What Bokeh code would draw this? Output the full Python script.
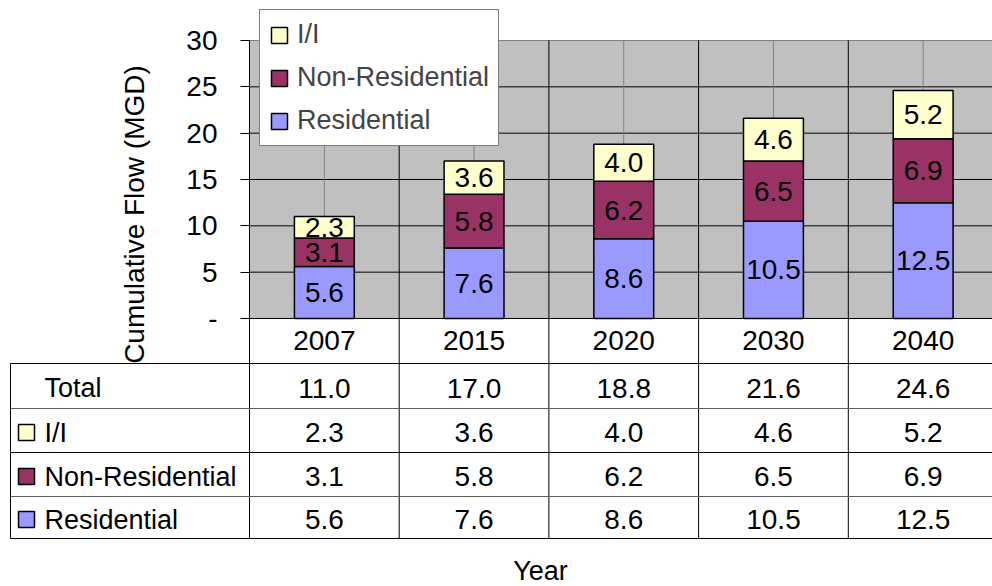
import numpy as np
from bokeh.plotting import figure
from bokeh.models import (Range1d, FixedTicker, Legend, LegendItem,
                          BoxAnnotation, LinearAxis)
from bokeh.embed import file_html
from bokeh.resources import INLINE
from bokeh.core.properties import value

# ---------------- data ----------------
years = ["2007", "2015", "2020", "2030", "2040"]
residential = [5.6, 7.6, 8.6, 10.5, 12.5]
non_residential = [3.1, 5.8, 6.2, 6.5, 6.9]
infiltration = [2.3, 3.6, 4.0, 4.6, 5.2]
totals = [11.0, 17.0, 18.8, 21.6, 24.6]
series_names = ["Residential", "Non-Residential", "I/I"]
series_colors = ["#9999FF", "#993366", "#FFFFCC"]
y_ticks = [0, 5, 10, 15, 20, 25, 30]
y_tick_labels = ["-", "5", "10", "15", "20", "25", "30"]
table_rows = ["Total", "I/I", "Non-Residential", "Residential"]
y_title = "Cumulative Flow (MGD)"
x_title = "Year"

# ---------------- style / layout (pixels) ----------------
FONT = "Liberation Sans"
FS_NUM = "28px"
FS_TXT = "27px"
W, H = 992, 586
X0_PX = 249            # left edge of first category
PX_X = 149.7           # pixels per category
Y0_PX = 318            # pixel of value 0
PX_Y = 278 / 30        # pixels per MGD
TABLE_LEFT_PX = 10
TABLE_LINES_PX = [363, 408, 452, 496, 538]
TABLE_LINE_COLORS = ["black", "#606060", "black", "#606060", "black"]
TABLE_TEXT_SHIFT_PX = 2
LABEL_X_PX = 44
SWATCH_X_PX = 26
GRAY_BG = "#C0C0C0"
GRID_GRAY = "#808080"


def xd(px):
    return (px - X0_PX) / PX_X


def yd(py):
    return (Y0_PX - py) / PX_Y


series = [residential, non_residential, infiltration]
n = len(years)
xc = np.arange(n) + 0.5
x_end = xd(W)
ytop = y_ticks[-1]
table_bottom = yd(TABLE_LINES_PX[-1])

p = figure(width=W, height=H, x_range=Range1d(xd(0), x_end),
           y_range=Range1d(yd(H), yd(0)),
           output_backend="svg", toolbar_location=None,
           x_axis_location=None, y_axis_location=None, min_border=0,
           background_fill_color="white", border_fill_color="white",
           outline_line_color=None)
for g in p.grid:
    g.visible = False

# plot-area background and grid
p.add_layout(BoxAnnotation(left=0, bottom=y_ticks[0], top=ytop, fill_color=GRAY_BG,
                           fill_alpha=1, line_color=None, level="image"))
p.segment(x0=[0] * (len(y_ticks) - 1), y0=y_ticks[:-1],
          x1=[x_end] * (len(y_ticks) - 1), y1=y_ticks[:-1],
          line_color="black", line_width=1)
p.segment(x0=[0], y0=[ytop], x1=[x_end], y1=[ytop], line_color=GRID_GRAY, line_width=1)
p.segment(x0=xc, y0=[y_ticks[0]] * n, x1=xc, y1=[ytop] * n,
          line_color=GRID_GRAY, line_width=1)
bx = list(range(n))
p.segment(x0=bx, y0=[table_bottom] * n, x1=bx, y1=[ytop] * n,
          line_color="black", line_width=1)

# stacked bars with labels
bottom = np.zeros(n)
renderers = []
for vals, name, col in zip(series, series_names, series_colors):
    vals = np.array(vals)
    top = bottom + vals
    r = p.vbar(x=xc, bottom=bottom, top=top, width=0.4, fill_color=col,
               line_color="black", line_width=1.5)
    renderers.append(r)
    p.text(x=xc, y=(bottom + top) / 2, text=[f"{v:.1f}" for v in vals],
           text_align="center", text_baseline="middle",
           text_font=value(FONT), text_font_size=FS_NUM, text_color="black")
    bottom = top

# y axis (at the first category edge)
yax = LinearAxis(fixed_location=0, bounds=(yd(388), ytop),
                 ticker=FixedTicker(ticks=y_ticks),
                 major_label_overrides={t: l for t, l in zip(y_ticks, y_tick_labels)},
                 major_label_text_font=FONT, major_label_text_font_size=FS_NUM,
                 major_label_text_color="black", major_label_standoff=23,
                 major_tick_out=9, major_tick_in=0, minor_tick_out=0, minor_tick_in=0,
                 major_tick_line_color="black", axis_line_color="black",
                 axis_label=y_title, axis_label_text_font=FONT,
                 axis_label_text_font_size=FS_NUM, axis_label_text_font_style="normal",
                 axis_label_text_color="black", axis_label_standoff=33)
p.add_layout(yax, "left")

# x axis: year labels in the header row, "Year" title below the table
xax = LinearAxis(fixed_location=0, bounds=(xd(540) * 2 - 4.6, 4.6),
                 ticker=FixedTicker(ticks=list(xc)),
                 major_label_overrides={float(x): yr for x, yr in zip(xc, years)},
                 major_label_text_font=FONT, major_label_text_font_size=FS_NUM,
                 major_label_text_color="black", major_label_standoff=12,
                 major_tick_out=0, major_tick_in=0, minor_tick_out=0, minor_tick_in=0,
                 axis_line_color=None,
                 axis_label=x_title, axis_label_text_font=FONT,
                 axis_label_text_font_size=FS_TXT, axis_label_text_font_style="normal",
                 axis_label_text_color="black", axis_label_standoff=203)
p.add_layout(xax, "below")

# data table below the chart
tl = xd(TABLE_LEFT_PX)
hy = [yd(v) for v in TABLE_LINES_PX]
p.segment(x0=[tl] * len(hy), y0=hy, x1=[x_end] * len(hy), y1=hy,
          line_color=TABLE_LINE_COLORS, line_width=1)
p.segment(x0=[tl], y0=[hy[0]], x1=[tl], y1=[hy[-1]], line_color="black", line_width=1)

nr = len(table_rows)
row_y = [yd((TABLE_LINES_PX[i] + TABLE_LINES_PX[i + 1]) / 2 + TABLE_TEXT_SHIFT_PX)
         for i in range(nr)]
p.text(x=[xd(LABEL_X_PX)] * nr, y=row_y, text=table_rows,
       text_align="left", text_baseline="middle",
       text_font=value(FONT), text_font_size=FS_TXT, text_color="black")
p.rect(x=[xd(SWATCH_X_PX)] * (nr - 1), y=row_y[1:], width=16, height=16,
       width_units="screen", height_units="screen",
       fill_color=series_colors[::-1], line_color="black", line_width=1.5)

row_values = [totals, infiltration, non_residential, residential]
tx, ty, tt = [], [], []
for ri, vals in enumerate(row_values):
    for ci, v in enumerate(vals):
        tx.append(xc[ci])
        ty.append(row_y[ri])
        tt.append(f"{v:.1f}")
p.text(x=tx, y=ty, text=tt, text_align="center", text_baseline="middle",
       text_font=value(FONT), text_font_size=FS_NUM, text_color="black")

# legend
items = [LegendItem(label=nm, renderers=[r])
         for nm, r in zip(series_names[::-1], renderers[::-1])]
legend = Legend(items=items, location=(259, H - 146), label_text_font=FONT,
                label_text_font_size=FS_TXT, glyph_width=20, glyph_height=20,
                label_standoff=8, padding=9, spacing=12, margin=0,
                border_line_color="black", border_line_width=1,
                background_fill_color="white", background_fill_alpha=1)
p.add_layout(legend)

open("out.html", "w").write(file_html(p, INLINE))
